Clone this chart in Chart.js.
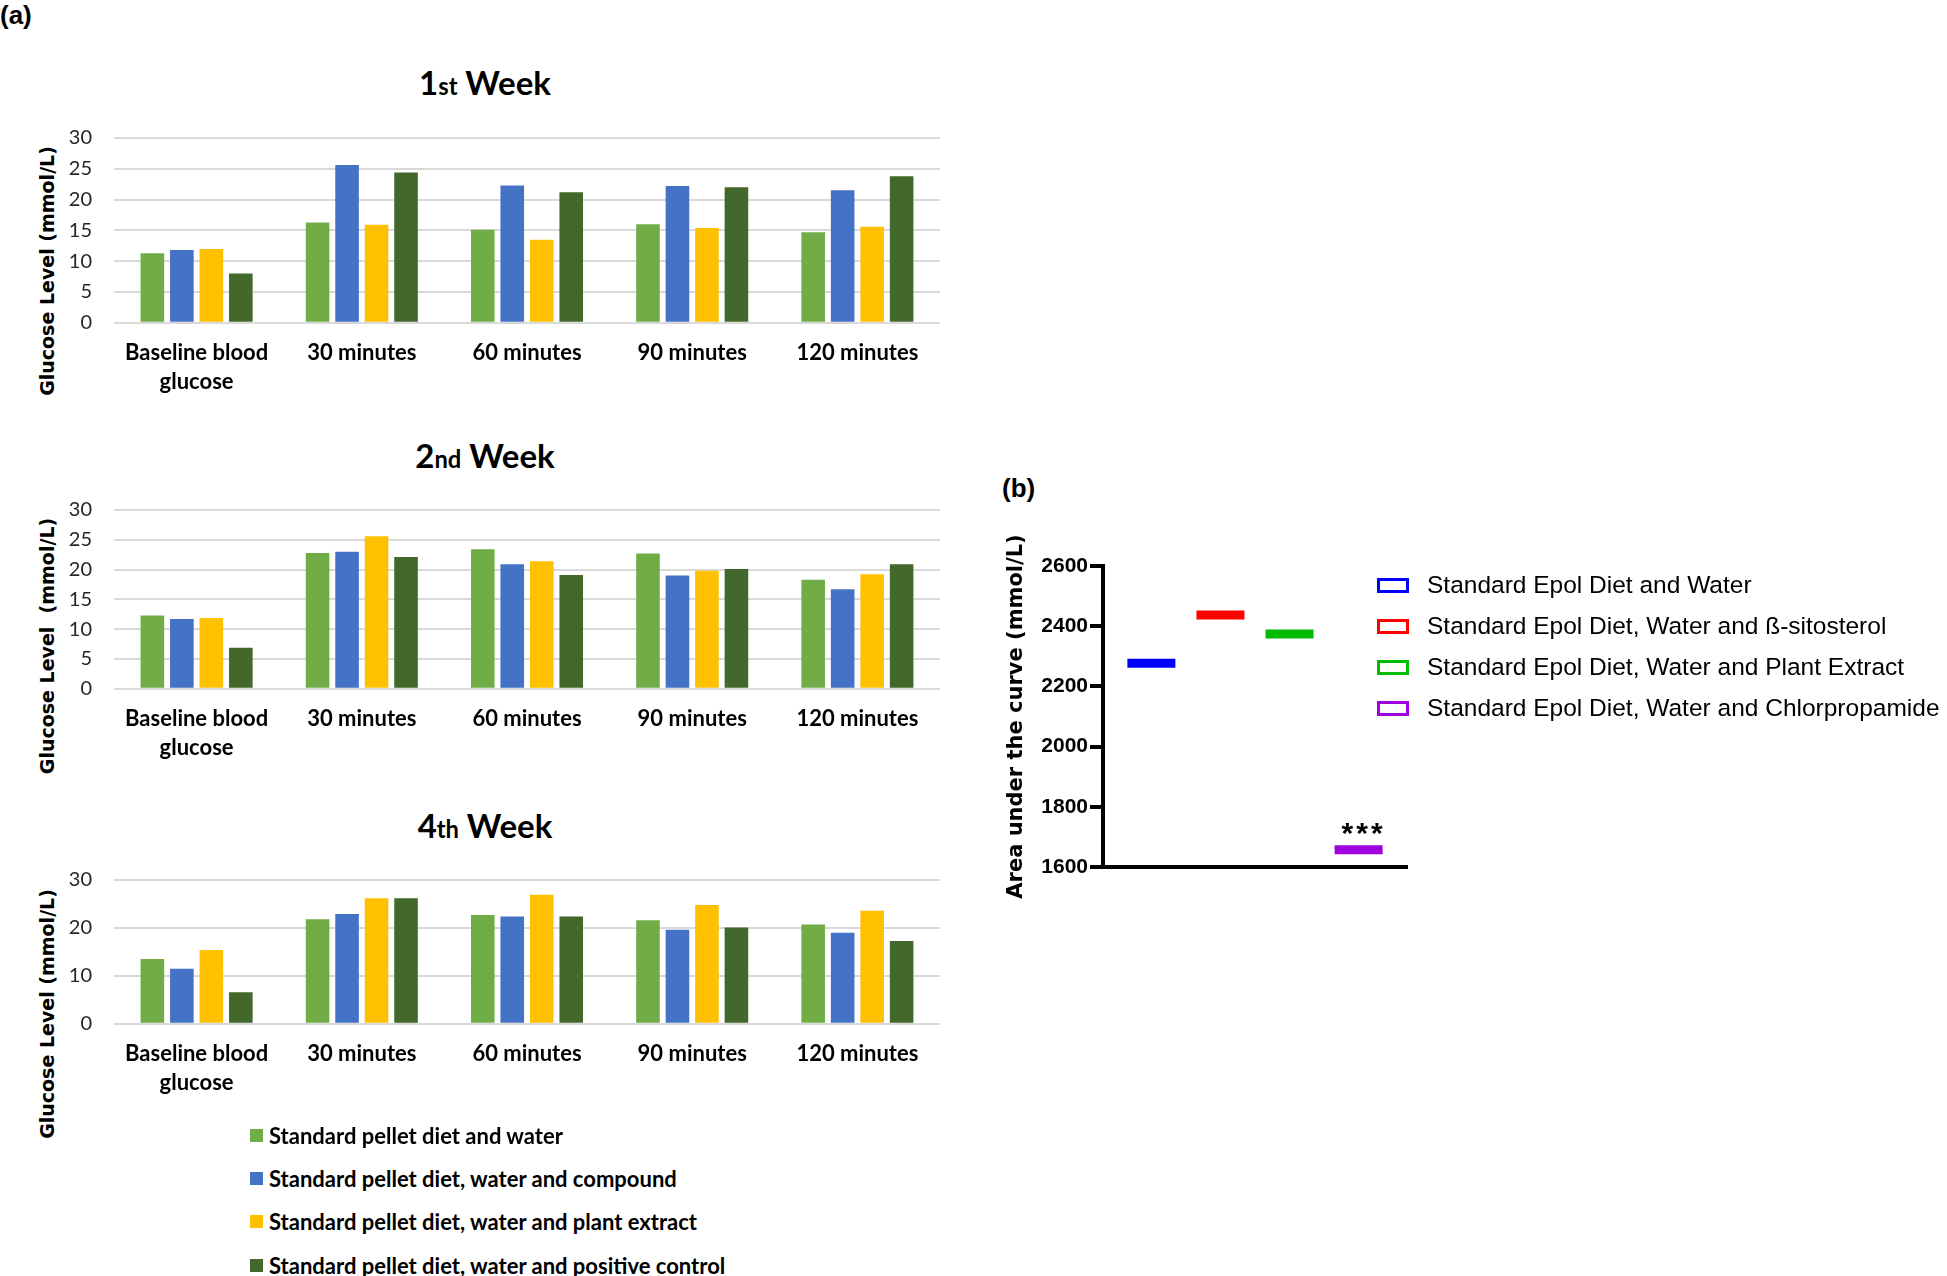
<!DOCTYPE html>
<html>
<head>
<meta charset="utf-8">
<title>Glucose levels and AUC</title>
<script src="https://cdn.jsdelivr.net/npm/chart.js@4.4.0/dist/chart.umd.min.js"></script>
<style>
  body { margin: 0; background: #fff; }
  #page { position: relative; width: 1947px; height: 1276px; overflow: hidden; background: #fff; }
  canvas { position: absolute; }
  .tag { position: absolute; font: bold 26px "Liberation Sans", Arial, sans-serif; color: #000; line-height: 30px; }
  .week { position: absolute; font: bold 33px Lato, sans-serif; color: #000; white-space: nowrap; transform: translate(-50%, -50%); line-height: 40px; }
  .week small { font-size: 0.72em; }
  .ytitle { position: absolute; font: bold 19px "DejaVu Sans", sans-serif; color: #000; white-space: pre; line-height: 24px;
            transform: translate(-50%, -50%) rotate(-90deg); }
  .legA, .legB { position: absolute; white-space: nowrap; display: flex; align-items: center; }
  .legA { font: bold 22px Lato, sans-serif; color: #000; height: 30px; }
  .legA i { display: inline-block; width: 13px; height: 13px; margin-right: 6px; }
  .legB { font: 24.5px "Liberation Sans", Arial, sans-serif; color: #000; height: 32px; }
  .legB i { display: inline-block; width: 26px; height: 9px; border: 3px solid; margin-right: 18px; background: #fff; }
</style>
</head>
<body>
<div id="page">
  <div class="tag" style="left:0px; top:0px;">(a)</div>
  <div class="tag" style="left:1002px; top:473px;">(b)</div>

  <div class="week" style="left:485px; top:84px;">1<small>st</small> Week</div>
  <div class="week" style="left:485px; top:457px;">2<small>nd</small> Week</div>
  <div class="week" style="left:485px; top:827px;">4<small>th</small> Week</div>

  <div class="ytitle" style="left:47px; top:271px;">Glucose Level (mmol/L)</div>
  <div class="ytitle" style="left:47px; top:646px;">Glucose Level  (mmol/L)</div>
  <div class="ytitle" style="left:47px; top:1014px;">Glucose Level (mmol/L)</div>

  <canvas id="week1" width="966" height="318" style="left:0px; top:104px;"></canvas>
  <canvas id="week2" width="966" height="312" style="left:0px; top:476px;"></canvas>
  <canvas id="week4" width="966" height="277" style="left:0px; top:846px;"></canvas>
  <canvas id="auc" width="436" height="367" style="left:1004px; top:533px;"></canvas>

  <div id="legendA"></div>
  <div id="legendB"></div>
</div>

<script>
// panel (a): glucose level per time point, one array per group
const timePoints = [["Baseline blood", "glucose"], "30 minutes", "60 minutes", "90 minutes", "120 minutes"];
const groupsA = [
  "Standard pellet diet and water",
  "Standard pellet diet, water and compound",
  "Standard pellet diet, water and plant extract",
  "Standard pellet diet, water and positive control"
];
const colorsA = ["#70ad47", "#4472c4", "#ffc000", "#43682b"];

const week1Water    = [11.3, 16.3, 15.1, 16.0, 14.7];
const week1Compound = [11.8, 25.6, 22.3, 22.2, 21.5];
const week1Extract  = [12.0, 15.9, 13.5, 15.4, 15.6];
const week1Control  = [8.0, 24.4, 21.2, 22.0, 23.8];

const week2Water    = [12.3, 22.8, 23.4, 22.7, 18.3];
const week2Compound = [11.7, 23.0, 20.9, 19.0, 16.7];
const week2Extract  = [11.9, 25.6, 21.4, 19.8, 19.2];
const week2Control  = [6.9, 22.1, 19.1, 20.1, 20.9];

const week4Water    = [13.5, 21.8, 22.7, 21.6, 20.7];
const week4Compound = [11.5, 22.9, 22.4, 19.6, 19.0];
const week4Extract  = [15.4, 26.2, 26.9, 24.8, 23.6];
const week4Control  = [6.6, 26.2, 22.4, 20.1, 17.3];

const ticksFine   = [0, 5, 10, 15, 20, 25, 30];
const ticksCoarse = [0, 10, 20, 30];

// panel (b): area under the curve
const aucGroups = [
  "Standard Epol Diet and Water",
  "Standard Epol Diet, Water and ß-sitosterol",
  "Standard Epol Diet, Water and Plant Extract",
  "Standard Epol Diet, Water and Chlorpropamide"
];
const aucValues = [2277, 2437, 2374, 1657];
const aucColors = ["#0000ff", "#ff0000", "#00bb00", "#a000dc"];
const aucMarks = ["", "", "", "***"];
const aucTicks = [1600, 1800, 2000, 2200, 2400, 2600];

function weekChart(id, series, yTicks) {
  return new Chart(document.getElementById(id), {
    type: "bar",
    data: {
      labels: timePoints,
      datasets: series.map((d, i) => ({
        label: groupsA[i],
        data: d,
        backgroundColor: colorsA[i],
        categoryPercentage: 0.714,
        barPercentage: 0.8
      }))
    },
    options: {
      responsive: false,
      animation: false,
      layout: { padding: { top: 0, right: 26, bottom: 10, left: 0 } },
      plugins: { legend: { display: false }, tooltip: { enabled: false } },
      scales: {
        x: {
          grid: { display: false, drawTicks: false },
          border: { display: false },
          ticks: {
            color: "#000",
            font: { family: "Lato", size: 22, weight: "bold", lineHeight: 1.3 },
            padding: 16,
            maxRotation: 0,
            autoSkip: false
          }
        },
        y: {
          min: yTicks[0],
          max: yTicks[yTicks.length - 1],
          afterBuildTicks: s => { s.ticks = yTicks.map(v => ({ value: v })); },
          ticks: { autoSkip: false, color: "#262626", font: { family: "Lato", size: 20 }, padding: 22 },
          grid: { color: "#d9d9d9", lineWidth: 2, drawTicks: false },
          border: { display: false },
          afterFit: s => { s.width = 114; }
        }
      }
    }
  });
}

weekChart("week1", [week1Water, week1Compound, week1Extract, week1Control], ticksFine);
weekChart("week2", [week2Water, week2Compound, week2Extract, week2Control], ticksFine);
weekChart("week4", [week4Water, week4Compound, week4Extract, week4Control], ticksCoarse);

// stars above the chlorpropamide group
const starsPlugin = {
  id: "stars",
  afterDatasetsDraw(chart) {
    const ctx = chart.ctx;
    const meta = chart.getDatasetMeta(0);
    ctx.save();
    ctx.font = "bold 30px 'Liberation Sans', Arial, sans-serif";
    ctx.letterSpacing = "3px";
    ctx.fillStyle = "#000";
    ctx.textAlign = "center";
    ctx.textBaseline = "alphabetic";
    meta.data.forEach((pt, i) => {
      if (aucMarks[i]) ctx.fillText(aucMarks[i], pt.x + 5, pt.y - 7);
    });
    ctx.restore();
  }
};

new Chart(document.getElementById("auc"), {
  type: "scatter",
  data: {
    datasets: [{
      label: "AUC",
      data: aucValues.map((v, i) => ({ x: i + 1, y: v })),
      pointStyle: "line",
      pointRadius: 24,
      pointHoverRadius: 24,
      pointBorderWidth: 9,
      pointBorderColor: aucColors,
      pointBackgroundColor: aucColors
    }]
  },
  options: {
    responsive: false,
    animation: false,
    layout: { padding: { top: 12, right: 16, bottom: 20, left: 0 } },
    plugins: { legend: { display: false }, tooltip: { enabled: false } },
    scales: {
      x: {
        type: "linear",
        min: 0.3,
        max: 4.7,
        ticks: { display: false },
        grid: { display: false },
        border: { display: true, color: "#000", width: 4 }
      },
      y: {
        min: aucTicks[0],
        max: aucTicks[aucTicks.length - 1],
        afterBuildTicks: s => { s.ticks = aucTicks.map(v => ({ value: v })); },
        ticks: {
          color: "#000",
          padding: 2,
          callback: v => String(v),
          font: { family: "'Liberation Sans', Arial, sans-serif", size: 21, weight: "bold" }
        },
        grid: { drawOnChartArea: false, tickLength: 13, tickWidth: 4, tickColor: "#000", color: "#000", lineWidth: 4 },
        border: { display: true, color: "#000", width: 4 },
        title: {
          display: true,
          text: "Area under the curve (mmol/L)",
          color: "#000",
          padding: 0,
          font: { family: "'DejaVu Sans'", size: 21, weight: "bold" }
        },
        afterFit: s => { s.width = 99; }
      }
    }
  },
  plugins: [starsPlugin]
});

// legends
const legendA = document.getElementById("legendA");
const legendARows = [1135, 1178, 1221, 1265];
groupsA.forEach((name, i) => {
  const row = document.createElement("div");
  row.className = "legA";
  row.style.left = "250px";
  row.style.top = (legendARows[i] - 15) + "px";
  row.innerHTML = `<i style="background:${colorsA[i]}"></i>${name}`;
  legendA.appendChild(row);
});

const legendB = document.getElementById("legendB");
const legendBRows = [585, 626, 667, 708];
aucGroups.forEach((name, i) => {
  const row = document.createElement("div");
  row.className = "legB";
  row.style.left = "1377px";
  row.style.top = (legendBRows[i] - 16) + "px";
  row.innerHTML = `<i style="border-color:${aucColors[i]}"></i>${name}`;
  legendB.appendChild(row);
});
</script>
</body>
</html>
